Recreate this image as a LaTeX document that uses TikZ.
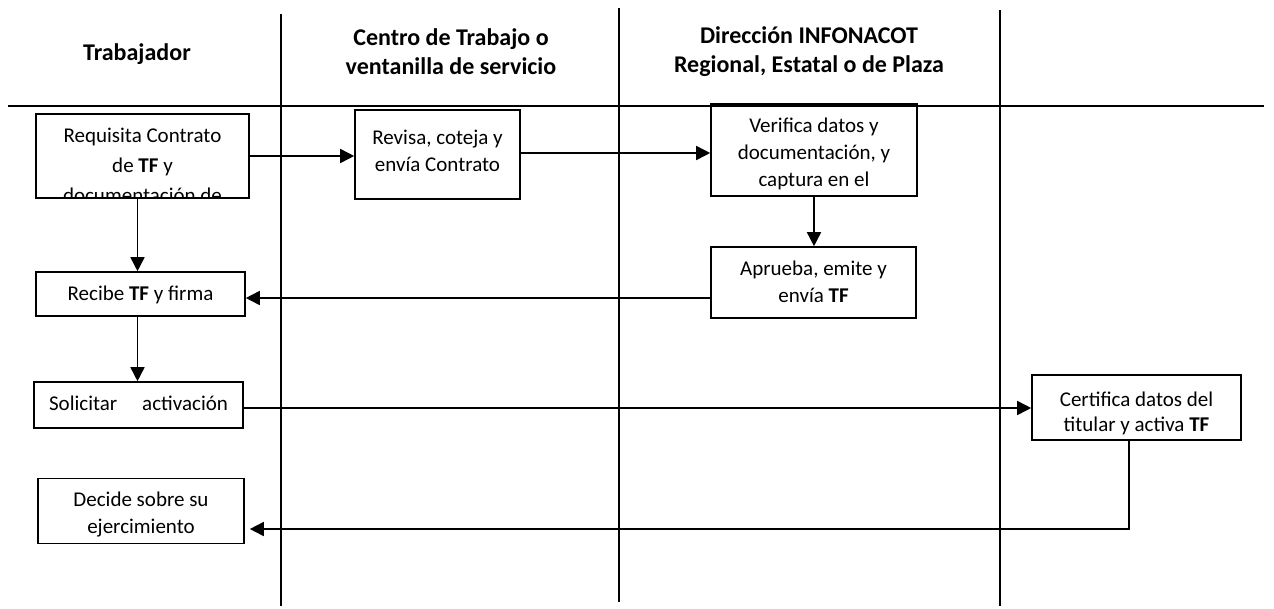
\documentclass[tikz,border=0pt]{standalone}
\usepackage{fontspec}
\setmainfont{Carlito}
\usetikzlibrary{positioning,arrows.meta}
\tikzset{
  stepbox/.style={draw, line width=1.6pt, rectangle, inner sep=0pt},
  step inner/.style={},
  step text/.style={path picture={\node[anchor=north, align=center, inner sep=0pt,
      minimum width=0pt, minimum height=0pt, step inner]
      at ([yshift=-13pt]path picture bounding box.north) {#1};}},
  lane line/.style={line width=1.5pt},
  flow/.style={line width=1.6pt, -{Triangle[length=14pt,width=14pt]}},
  lane title/.style={font=\fontsize{24}{29}\selectfont\bfseries, align=center}
}
\begin{document}
\begin{tikzpicture}[x=1pt, y=-1pt, every node/.style={font=\fontsize{21}{27}\selectfont}]
            \useasboundingbox (0,0) rectangle (1274,608);

            % lanes
            \draw[lane line] (8,106) -- (1264,106);
            \draw[lane line] (281,14) -- (281,606);
            \draw[lane line] (619,8) -- (619,602);
            \draw[lane line] (1000,10) -- (1000,606);
            \draw node (T1) [lane title] at (137,54) {Trabajador};
            \draw node (T2) [lane title] at (451,52) {Centro de Trabajo o\\ventanilla de servicio};
            \draw node (T3) [lane title] at (809,52) {Dirección INFONACOT\\Regional, Estatal o de Plaza};

            % steps (text set from the top of each box)
            \draw node (req) [stepbox, minimum width=213pt, minimum height=84pt,
              step inner/.style={font=\fontsize{21}{30}\selectfont},
              step text={Requisita Contrato\\de \textbf{TF} y\\documentación de}] at (142.5,156) {};
            \draw node (rev) [stepbox, minimum width=165pt, minimum height=89pt,
              step inner/.style={yshift=-6pt},
              step text={Revisa, coteja y\\envía Contrato}] at (437.5,154.5) {};
            \draw node (ver) [stepbox, minimum width=206pt, minimum height=92pt,
              step text={Verifica datos y\\documentación, y\\captura en el}] at (814,150) {};
            \draw node (apr) [stepbox, minimum width=205pt, minimum height=71pt,
              step text={Aprueba, emite y\\envía \textbf{TF}}] at (813.5,282.5) {};
            \draw node (rec) [stepbox, minimum width=209pt, minimum height=44pt,
              step text={Recibe \textbf{TF} y firma}] at (140.5,294) {};
            \draw node (sol) [stepbox, minimum width=209pt, minimum height=46pt,
              step text={Solicitar\hspace{25pt}activación}] at (138.5,405) {};
            \draw node (dec) [stepbox, minimum width=206pt, minimum height=65pt,
              step text={Decide sobre su\\ejercimiento}] at (141,511) {};
            \draw node (cer) [stepbox, minimum width=209pt, minimum height=65pt,
              step inner/.style={yshift=-3pt, font=\fontsize{21}{25}\selectfont},
              step text={Certifica datos del\\titular y activa \textbf{TF}}] at (1136.5,407.5) {};

            % flow
            \draw[flow] (req.east) -- (req.east -| rev.west);
            \draw[flow] ([yshift=1.5pt]rev.east) -- ([yshift=1.5pt]rev.east -| ver.west);
            \draw[flow] ([xshift=-5pt]req.south) -- ([xshift=-5pt]req.south |- rec.north);
            \draw[flow] (ver.south) -- (ver.south |- apr.north);
            \draw[flow] ([yshift=-15.5pt]apr.west) -- ([yshift=-15.5pt]apr.west -| rec.east);
            \draw[flow] ([xshift=-3pt]rec.south) -- ([xshift=-3pt]rec.south |- sol.north);
            \draw[flow] ([yshift=-3pt]sol.east) -- ([yshift=-3pt]sol.east -| cer.west);
            \draw[flow, shorten >=5pt] ([xshift=-7.5pt]cer.south) |- ([yshift=-18pt]dec.east);
        \end{tikzpicture}
\end{document}
